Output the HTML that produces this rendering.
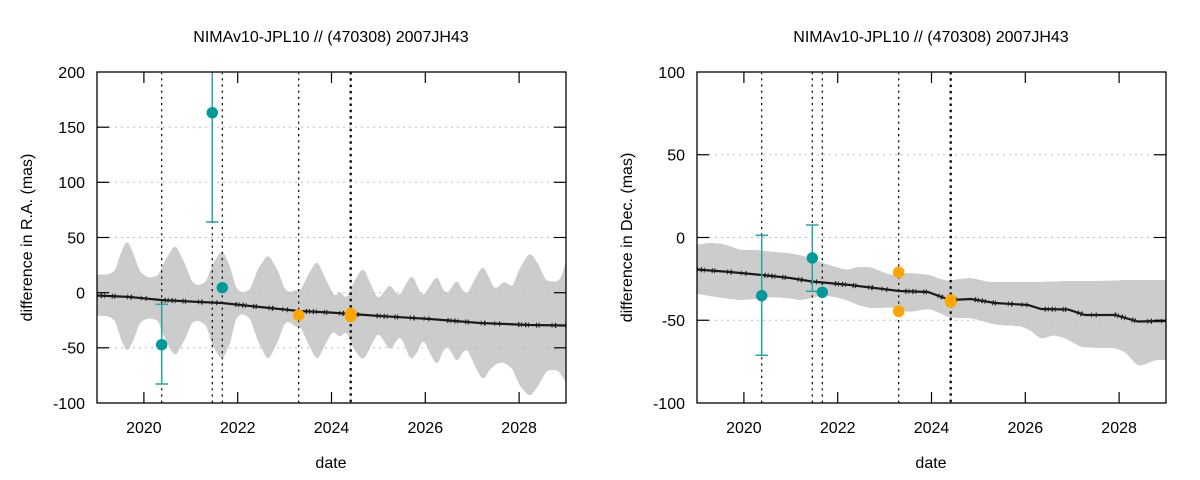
<!DOCTYPE html>
<html>
<head>
<meta charset="utf-8">
<style>
html,body{margin:0;padding:0;background:#fff;}
svg{display:block;}
text{font-family:"Liberation Sans",Arial,sans-serif;font-size:16px;fill:#000;}
</style>
</head>
<body>
<svg width="1200" height="480" viewBox="0 0 1200 480" xmlns="http://www.w3.org/2000/svg">
<defs>
<clipPath id="cl"><rect x="97" y="72" width="469" height="331"/></clipPath>
<clipPath id="cr"><rect x="697" y="72" width="469" height="331"/></clipPath>
<filter id="goo" x="-5%" y="-20%" width="110%" height="140%" color-interpolation-filters="sRGB">
<feGaussianBlur in="SourceGraphic" stdDeviation="2.2" result="b"/>
<feColorMatrix in="b" type="matrix" values="0 0 0 0 0.8  0 0 0 0 0.8  0 0 0 0 0.8  0 0 0 24 -11"/>
</filter>
</defs>

<!-- ================= LEFT PLOT ================= -->
<text x="331" y="42" text-anchor="middle">NIMAv10-JPL10 // (470308) 2007JH43</text>
<g clip-path="url(#cl)">
<polygon fill="#cccccc" filter="url(#goo)" points="
88,274 108,275 115,271 121,253 127,239 133,253 140,272 148,278 158,276 165,261 175,244 185,264 192,282 198,286 206,282 213,264 222,249 230,267 236,288 242,293 250,290 258,269 268,254 278,271 285,290 291,293 296,289 300,292 307,277 317,260 326,280 335,298 340,290 346,300 354,282 363,267 371,285 378,300 384,292 390,284 395,292 399,297 405,286 412,274 418,288 423,297 430,286 437,275 442,288 447,295 452,287 457,279 462,290 467,295 475,279 483,265 490,280 495,290 500,285 505,281 512,288 520,268 530,252 538,264 546,281 558,282 562,275 566,262 575,250
575,386 566,382 562,376 558,370 547,370 538,386 530,397 520,386 512,368 505,363 500,362 495,365 490,369 483,381 475,366 467,348 462,353 457,363 452,353 447,345 442,353 437,366 430,353 423,338 418,351 411,361 405,346 400,335 395,343 390,351 384,341 378,332 371,346 363,361 354,349 346,330 340,338 333,330 326,343 317,361 307,341 300,325 296,328 291,322 285,322 278,341 268,361 258,341 250,318 242,313 236,318 230,343 222,361 213,346 206,325 198,320 192,322 185,339 175,357 165,339 158,320 148,318 140,322 133,341 127,353 121,339 115,320 108,316 88,315"/>
<!-- grid -->
<g stroke="#bdbdbd" stroke-width="1" stroke-dasharray="2,4">
<line x1="97" y1="127.2" x2="566" y2="127.2"/>
<line x1="97" y1="182.3" x2="566" y2="182.3"/>
<line x1="97" y1="237.5" x2="566" y2="237.5"/>
<line x1="97" y1="292.7" x2="566" y2="292.7"/>
<line x1="97" y1="347.8" x2="566" y2="347.8"/>
</g>
<!-- vertical event lines -->
<g stroke="#000" stroke-width="1.2" stroke-dasharray="2.2,4">
<line x1="161.7" y1="72" x2="161.7" y2="403"/>
<line x1="212.3" y1="72" x2="212.3" y2="403"/>
<line x1="222.3" y1="72" x2="222.3" y2="403"/>
<line x1="298.7" y1="72" x2="298.7" y2="403"/>
</g>
<line x1="350.7" y1="72" x2="350.7" y2="403" stroke="#000" stroke-width="2.2" stroke-dasharray="2.5,3.8"/>
<!-- main line -->
<polyline fill="none" stroke="#1a1a1a" stroke-width="2.2" points="97,295.5 130,297 161,300 200,302 222,303 260,307 299,311 330,312.5 351,314 380,316 430,319 480,323 530,325 566,325.5"/>
<polyline fill="none" stroke="#1a1a1a" stroke-width="5" stroke-dasharray="0.8,3,1.2,2,0.8,7,1,1.5,1,12,0.8,2.5,1.4,9,0.7,4,1,18,1.2,2" points="97,295.5 130,297 161,300 200,302 222,303 260,307 299,311 330,312.5 351,314 380,316 430,319 480,323 530,325 566,325.5"/>
<!-- error bars -->
<g stroke="#2aa3a3" stroke-width="1.5" fill="none">
<line x1="161.7" y1="304.3" x2="161.7" y2="384"/>
<line x1="155.5" y1="304.3" x2="168" y2="304.3"/>
<line x1="155.5" y1="384" x2="168" y2="384"/>
<line x1="212.3" y1="72" x2="212.3" y2="222"/>
<line x1="206" y1="222" x2="218.6" y2="222"/>
</g>
<!-- points -->
<g fill="#009999">
<circle cx="161.7" cy="344.7" r="5.7"/>
<circle cx="212.3" cy="112.7" r="5.7"/>
<circle cx="222.3" cy="287.7" r="5.7"/>
</g>
<g fill="#ffa500">
<circle cx="298.7" cy="315" r="5.8"/>
<circle cx="350.7" cy="313.5" r="5.8"/>
<circle cx="350.7" cy="316.5" r="5.8"/>
</g>
</g>
<!-- frame & ticks -->
<rect x="97" y="72" width="469" height="331" fill="none" stroke="#000" stroke-width="1.3"/>
<g stroke="#000" stroke-width="1.2">
<line x1="97" y1="127.2" x2="109" y2="127.2"/><line x1="566" y1="127.2" x2="554" y2="127.2"/>
<line x1="97" y1="182.3" x2="109" y2="182.3"/><line x1="566" y1="182.3" x2="554" y2="182.3"/>
<line x1="97" y1="237.5" x2="109" y2="237.5"/><line x1="566" y1="237.5" x2="554" y2="237.5"/>
<line x1="97" y1="292.7" x2="109" y2="292.7"/><line x1="566" y1="292.7" x2="554" y2="292.7"/>
<line x1="97" y1="347.8" x2="109" y2="347.8"/><line x1="566" y1="347.8" x2="554" y2="347.8"/>
<line x1="143.9" y1="403" x2="143.9" y2="392"/><line x1="143.9" y1="72" x2="143.9" y2="83"/>
<line x1="237.7" y1="403" x2="237.7" y2="392"/><line x1="237.7" y1="72" x2="237.7" y2="83"/>
<line x1="331.5" y1="403" x2="331.5" y2="392"/><line x1="331.5" y1="72" x2="331.5" y2="83"/>
<line x1="425.3" y1="403" x2="425.3" y2="392"/><line x1="425.3" y1="72" x2="425.3" y2="83"/>
<line x1="519.1" y1="403" x2="519.1" y2="392"/><line x1="519.1" y1="72" x2="519.1" y2="83"/>
</g>
<g text-anchor="end">
<text x="85" y="77.8">200</text>
<text x="85" y="133">150</text>
<text x="85" y="188.1">100</text>
<text x="85" y="243.3">50</text>
<text x="85" y="298.5">0</text>
<text x="85" y="353.6">-50</text>
<text x="85" y="408.8">-100</text>
</g>
<g text-anchor="middle">
<text x="143.9" y="433">2020</text>
<text x="237.7" y="433">2022</text>
<text x="331.5" y="433">2024</text>
<text x="425.3" y="433">2026</text>
<text x="519.1" y="433">2028</text>
<text x="331" y="468">date</text>
</g>
<text transform="translate(32,237.5) rotate(-90)" text-anchor="middle">difference in R.A. (mas)</text>

<!-- ================= RIGHT PLOT ================= -->
<text x="931" y="42" text-anchor="middle">NIMAv10-JPL10 // (470308) 2007JH43</text>
<g clip-path="url(#cr)">
<polygon fill="#cccccc" filter="url(#goo)" points="
688,246 710,243 723,244 732,247 740,250 755,250 773,252 787,253 800,255 812,259 823,263 835,267 847,270 858,267 870,267 880,271 890,275 900,274 910,273 920,274 930,275 940,279 948,281 960,279 971,278 980,280 988,282 1010,282 1040,282 1070,281 1100,281 1130,280 1175,280
1175,360 1155,360 1146,364 1138,366 1125,352 1115,348 1100,348 1081,347 1065,338 1054,335 1041,339 1030,330 1020,326 1000,325 988,323 980,320 971,318 960,318 948,317 940,313 930,309 920,310 910,312 900,310 890,307 880,308 870,308 858,305 847,300 835,297 823,295 812,298 800,300 787,298 773,297 755,299 740,300 723,298 710,296 688,292"/>
<g stroke="#bdbdbd" stroke-width="1" stroke-dasharray="2,4">
<line x1="697" y1="154.75" x2="1166" y2="154.75"/>
<line x1="697" y1="237.5" x2="1166" y2="237.5"/>
<line x1="697" y1="320.25" x2="1166" y2="320.25"/>
</g>
<g stroke="#000" stroke-width="1.2" stroke-dasharray="2.2,4">
<line x1="761.7" y1="72" x2="761.7" y2="403"/>
<line x1="812.3" y1="72" x2="812.3" y2="403"/>
<line x1="822.3" y1="72" x2="822.3" y2="403"/>
<line x1="898.7" y1="72" x2="898.7" y2="403"/>
</g>
<line x1="950.7" y1="72" x2="950.7" y2="403" stroke="#000" stroke-width="2.2" stroke-dasharray="2.5,3.8"/>
<polyline fill="none" stroke="#1a1a1a" stroke-width="2.2" points="697,269.5 730,272 762,275 790,278 812,281.5 850,285 899,291 928,292 950,300 971,299 995,303 1028,305 1041,309 1068,309.5 1085,315 1115,315 1138,321.5 1166,321"/>
<polyline fill="none" stroke="#1a1a1a" stroke-width="5" stroke-dasharray="0.8,3,1.2,2,0.8,7,1,1.5,1,12,0.8,2.5,1.4,9,0.7,4,1,18,1.2,2" points="697,269.5 730,272 762,275 790,278 812,281.5 850,285 899,291 928,292 950,300 971,299 995,303 1028,305 1041,309 1068,309.5 1085,315 1115,315 1138,321.5 1166,321"/>
<g stroke="#2aa3a3" stroke-width="1.5" fill="none">
<line x1="761.7" y1="235.3" x2="761.7" y2="355.3"/>
<line x1="755.5" y1="235.3" x2="768" y2="235.3"/>
<line x1="755.5" y1="355.3" x2="768" y2="355.3"/>
<line x1="812.3" y1="225" x2="812.3" y2="291.3"/>
<line x1="806" y1="225" x2="818.6" y2="225"/>
<line x1="806" y1="291.3" x2="818.6" y2="291.3"/>
</g>
<g fill="#009999">
<circle cx="761.7" cy="295.7" r="5.7"/>
<circle cx="812.3" cy="258" r="5.7"/>
<circle cx="822.3" cy="292.3" r="5.7"/>
</g>
<g fill="#ffa500">
<circle cx="898.7" cy="272.3" r="5.8"/>
<circle cx="898.7" cy="311.3" r="5.8"/>
<circle cx="950.7" cy="300" r="5.8"/>
<circle cx="950.7" cy="302" r="5.8"/>
</g>
</g>
<rect x="697" y="72" width="469" height="331" fill="none" stroke="#000" stroke-width="1.3"/>
<g stroke="#000" stroke-width="1.2">
<line x1="697" y1="154.75" x2="709" y2="154.75"/><line x1="1166" y1="154.75" x2="1154" y2="154.75"/>
<line x1="697" y1="237.5" x2="709" y2="237.5"/><line x1="1166" y1="237.5" x2="1154" y2="237.5"/>
<line x1="697" y1="320.25" x2="709" y2="320.25"/><line x1="1166" y1="320.25" x2="1154" y2="320.25"/>
<line x1="743.9" y1="403" x2="743.9" y2="392"/><line x1="743.9" y1="72" x2="743.9" y2="83"/>
<line x1="837.7" y1="403" x2="837.7" y2="392"/><line x1="837.7" y1="72" x2="837.7" y2="83"/>
<line x1="931.5" y1="403" x2="931.5" y2="392"/><line x1="931.5" y1="72" x2="931.5" y2="83"/>
<line x1="1025.3" y1="403" x2="1025.3" y2="392"/><line x1="1025.3" y1="72" x2="1025.3" y2="83"/>
<line x1="1119.1" y1="403" x2="1119.1" y2="392"/><line x1="1119.1" y1="72" x2="1119.1" y2="83"/>
</g>
<g text-anchor="end">
<text x="685" y="77.8">100</text>
<text x="685" y="160.5">50</text>
<text x="685" y="243.3">0</text>
<text x="685" y="326">-50</text>
<text x="685" y="408.8">-100</text>
</g>
<g text-anchor="middle">
<text x="743.9" y="433">2020</text>
<text x="837.7" y="433">2022</text>
<text x="931.5" y="433">2024</text>
<text x="1025.3" y="433">2026</text>
<text x="1119.1" y="433">2028</text>
<text x="931" y="468">date</text>
</g>
<text transform="translate(632,237.5) rotate(-90)" text-anchor="middle">difference in Dec. (mas)</text>
</svg>
</body>
</html>
